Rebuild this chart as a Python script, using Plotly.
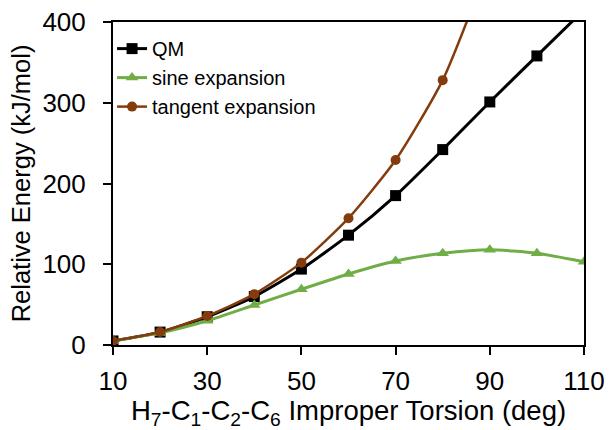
import plotly.graph_objects as go

torsion = [10, 20, 30, 40, 50, 60, 70, 80, 90, 100, 110]
qm = [5, 16, 35, 60, 94, 136, 185, 242, 301, 358, 415]
sine = [5, 15, 30, 49.5, 69, 88, 104, 113.5, 118, 113.5, 103]
tangent_x = [10, 20, 30, 40, 50, 60, 70, 80, 90]
tangent = [5, 16, 36, 63, 102, 157, 229, 328, 475]

FONT = "Liberation Sans, Arial, sans-serif"

fig = go.Figure()
fig.add_trace(go.Scatter(
    x=torsion, y=qm, name="QM", mode="lines+markers",
    line=dict(color="#000000", width=3, shape="spline", smoothing=0.6),
    marker=dict(symbol="square", size=11, color="#000000"),
))
fig.add_trace(go.Scatter(
    x=torsion, y=sine, name="sine expansion", mode="lines+markers",
    line=dict(color="#70AD47", width=3, shape="spline", smoothing=0.6),
    marker=dict(symbol="triangle-up", size=11, color="#70AD47"),
))
fig.add_trace(go.Scatter(
    x=tangent_x, y=tangent, name="tangent expansion", mode="lines+markers",
    line=dict(color="#843C0C", width=2.5, shape="spline", smoothing=0.6),
    marker=dict(symbol="circle", size=10, color="#843C0C"),
))

fig.update_layout(
    width=612, height=430,
    margin=dict(l=113, r=28, t=22, b=85, autoexpand=False),
    paper_bgcolor="white", plot_bgcolor="white",
    font=dict(family=FONT, color="#000000", size=22),
    showlegend=True,
    legend=dict(
        x=-0.002, y=0.978, xanchor="left", yanchor="top",
        font=dict(family=FONT, size=20, color="#000000"),
        bgcolor="rgba(0,0,0,0)", itemwidth=30, tracegroupgap=0,
    ),
    xaxis=dict(
        range=[10, 110], tickvals=[10, 30, 50, 70, 90, 110],
        showgrid=False, zeroline=False,
        showline=True, linecolor="#000000", linewidth=2, mirror=True,
        ticks="outside", ticklen=8, tickwidth=2, tickcolor="#000000",
        tickfont=dict(size=26), ticklabelstandoff=4,
        title=dict(text="H<sub>7</sub>-C<sub>1</sub>-C<sub>2</sub>-C<sub>6</sub> Improper Torsion (deg)",
                   font=dict(size=27.5), standoff=2),
    ),
    yaxis=dict(
        range=[0, 400], tickvals=[0, 100, 200, 300, 400],
        showgrid=False, zeroline=False,
        showline=True, linecolor="#000000", linewidth=2, mirror=True,
        ticks="outside", ticklen=8, tickwidth=2, tickcolor="#000000",
        tickfont=dict(size=26), ticklabelstandoff=12,
        title=dict(text="Relative Energy (kJ/mol)", font=dict(size=25.5), standoff=4),
    ),
)

fig.write_html("out.html", config={"displayModeBar": False},
               post_script="document.body.style.margin='0';document.body.style.padding='0';")
